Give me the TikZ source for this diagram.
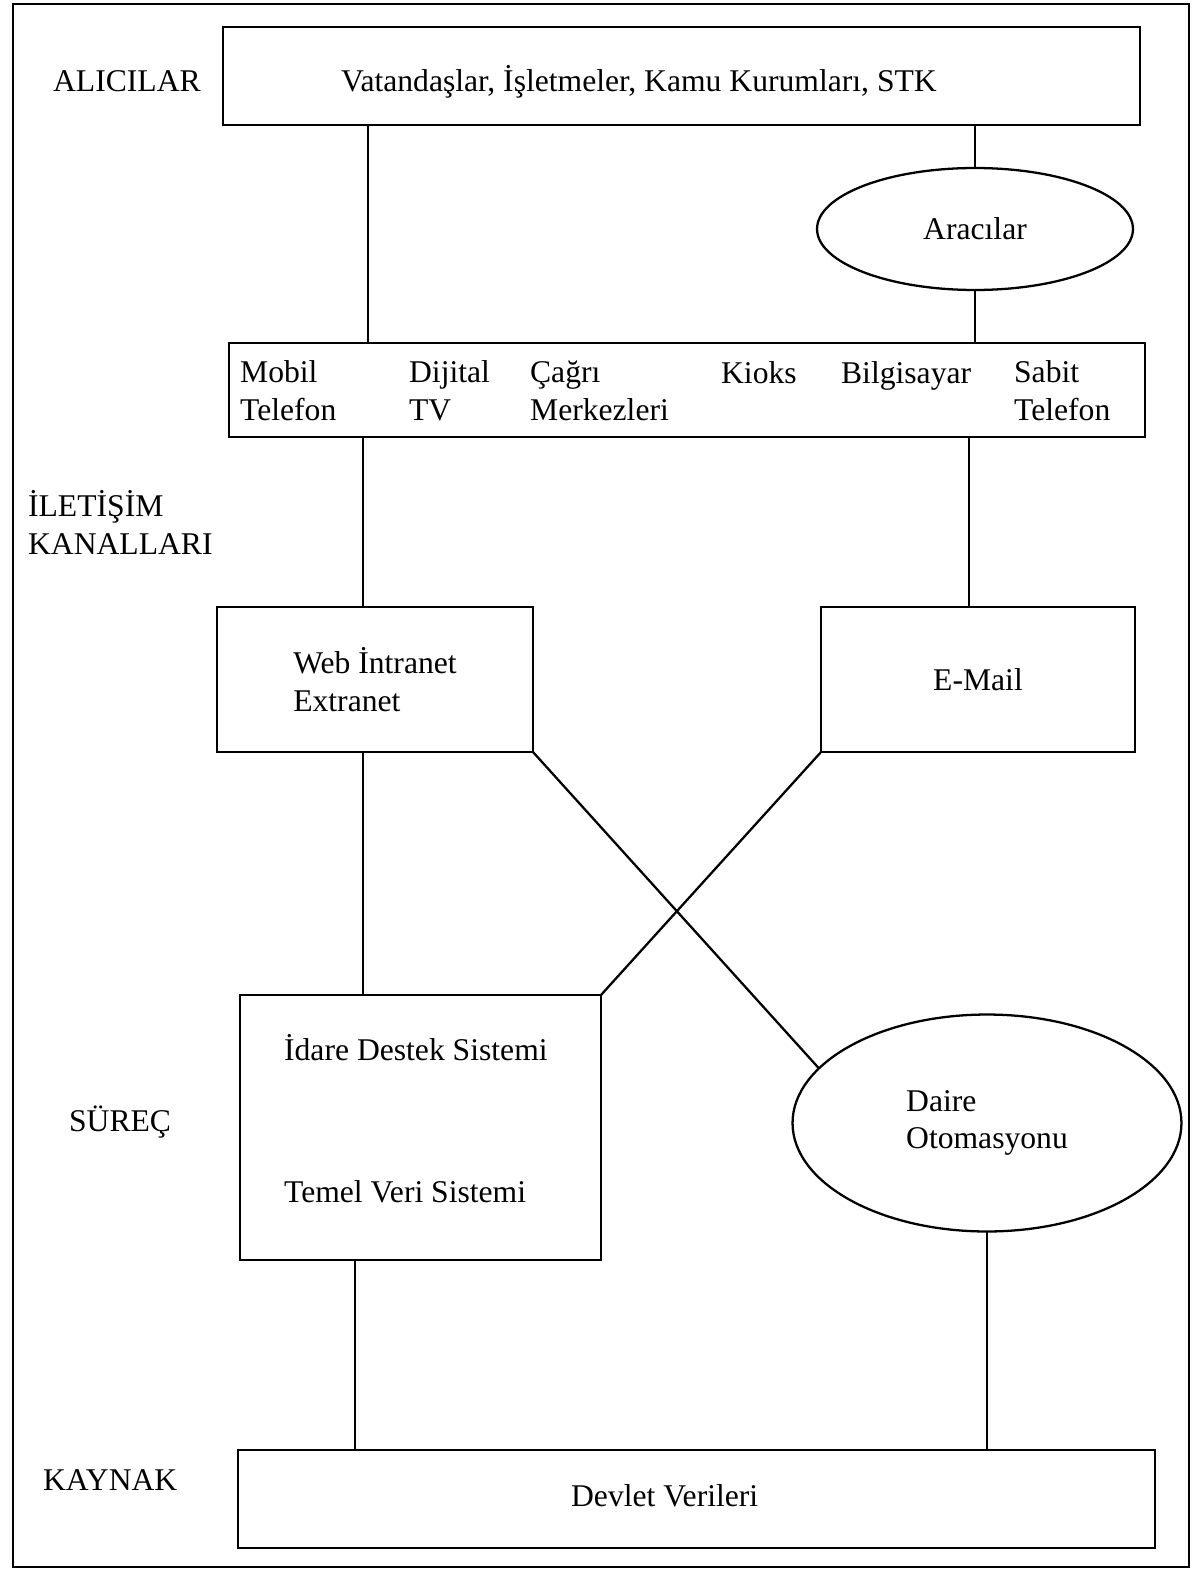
\documentclass[tikz,border=0pt]{standalone}
\usepackage{fontspec}
\setmainfont{Liberation Serif}
\usepackage{tikz}
\usetikzlibrary{shapes.geometric}

\newcommand{\diagfont}{\fontsize{18}{21.5}\selectfont}

\begin{document}
\begin{tikzpicture}[x=0.02cm, y=-0.02cm, line width=1.3pt,
		box/.style={rectangle, draw=black, inner sep=0pt, outer sep=0pt, font=\diagfont},
		oval/.style={ellipse, draw=black, inner sep=0pt, outer sep=0pt, font=\diagfont},
		lbl/.style={anchor=base west, inner sep=0pt, font=\diagfont}]

		\useasboundingbox (0,0) rectangle (1195,1571);
		\draw[line width=1.4pt] (13,4) rectangle (1189,1567);

		% layer names
		\node[lbl] (alicilar) at (52,92) {ALICILAR};
		\node[lbl] (iletisim) at (27,516) {İLETİŞİM};
		\node[lbl] (kanallar) at (27,554) {KANALLARI};
		\node[lbl] (surec) at (68,1131) {SÜREÇ};
		\node[lbl] (kaynak) at (42,1490) {KAYNAK};

		% boxes
		\node[box, minimum width=18.34cm, minimum height=1.96cm] (alici) at (681.5,76) {};
		\node[lbl] (alicitxt) at (340,92) {Vatandaşlar, İşletmeler, Kamu Kurumları, STK};

		\node[oval, minimum width=6.32cm, minimum height=2.44cm] (aracilar) at (975,229) {Aracılar};

		\node[box, minimum width=18.32cm, minimum height=1.88cm] (kanal) at (687,390) {};
		\node[lbl, align=left] (mobil) at (239,420) {Mobil\\Telefon};
		\node[lbl, align=left] (dijital) at (408,420) {Dijital\\TV};
		\node[lbl, align=left] (cagri) at (529,420) {Çağrı\\Merkezleri};
		\node[lbl] (kioks) at (720,383) {Kioks};
		\node[lbl] (bilgisayar) at (840,383) {Bilgisayar};
		\node[lbl, align=left] (sabit) at (1013,420) {Sabit\\Telefon};

		\node[box, align=left, minimum width=6.32cm, minimum height=2.9cm] (web) at (375,679.5) {Web İntranet\\Extranet};
		\node[box, minimum width=6.28cm, minimum height=2.9cm] (email) at (978,679.5) {E-Mail};

		\node[box, minimum width=7.22cm, minimum height=5.3cm] (idare) at (420.5,1127.5) {};
		\node[lbl] (idaretxt) at (283,1060) {İdare Destek Sistemi};
		\node[lbl] (temeltxt) at (283,1202) {Temel Veri Sistemi};

		\node[oval, align=left, minimum width=7.78cm, minimum height=4.34cm] (daire) at (987,1123) {Daire\\Otomasyonu};

		\node[box, minimum width=18.34cm, minimum height=1.96cm] (devlet) at (696.5,1499) {};
		\node[lbl] (devlettxt) at (570,1506) {Devlet Verileri};

		% connectors
		\coordinate (l1) at (368,0);
		\coordinate (l2) at (363,0);
		\coordinate (l3) at (355,0);
		\coordinate (r1) at (969,0);

		\draw (alici.south -| l1) -- (kanal.north -| l1);
		\draw (alici.south -| aracilar.north) -- (aracilar.north);
		\draw (aracilar.south) -- (kanal.north -| aracilar.south);
		\draw (kanal.south -| l2) -- (web.north -| l2);
		\draw (kanal.south -| r1) -- (email.north -| r1);
		\draw (web.south -| l2) -- (idare.north -| l2);
		\draw (web.south east) -- (daire.162);
		\draw (email.south west) -- (idare.north east);
		\draw (idare.south -| l3) -- (devlet.north -| l3);
		\draw (daire.south) -- (devlet.north -| daire.south);

	\end{tikzpicture}
\end{document}
